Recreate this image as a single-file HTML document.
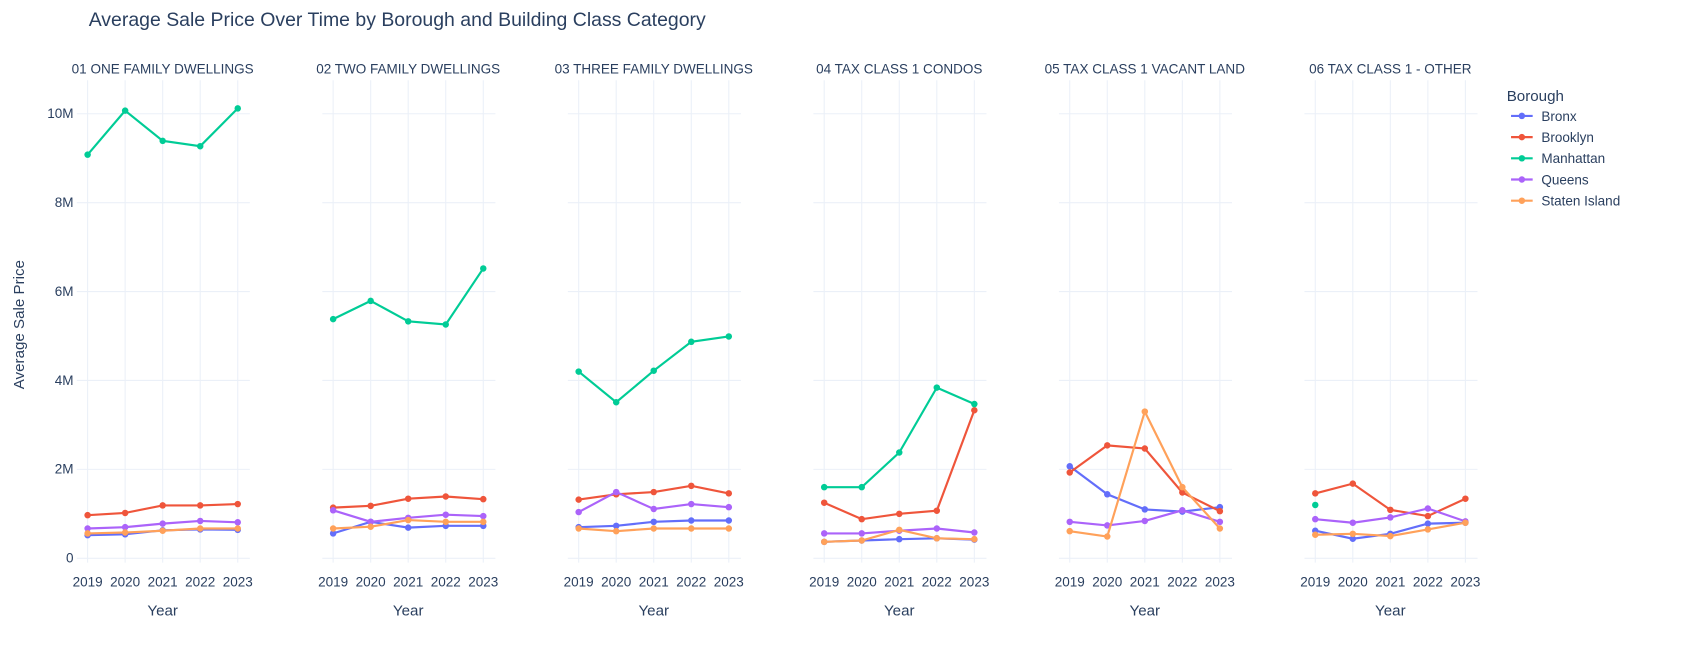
<!DOCTYPE html>
<html><head><meta charset="utf-8"><style>
html,body{margin:0;padding:0;background:#fff;}
svg{display:block;font-family:"Liberation Sans",sans-serif;}
</style></head><body>
<svg id="chart" width="1696" height="645" viewBox="0 0 1568 596" xmlns="http://www.w3.org/2000/svg">
<text x="82" y="24" font-size="18" fill="#2a3f5f">Average Sale Price Over Time by Borough and Building Class Category</text>
<text transform="translate(22,300) rotate(-90)" text-anchor="middle" font-size="14" fill="#2a3f5f">Average Sale Price</text>
<g id="panels"></g>
<g id="legend"></g>
</svg>
<script>
const categories = ["01 ONE FAMILY DWELLINGS","02 TWO FAMILY DWELLINGS","03 THREE FAMILY DWELLINGS","04 TAX CLASS 1 CONDOS","05 TAX CLASS 1 VACANT LAND","06 TAX CLASS 1 - OTHER"];
const years = [2019,2020,2021,2022,2023];
const boroughs = ["Bronx","Brooklyn","Manhattan","Queens","Staten Island"];
const yTicks = [0,2,4,6,8,10];
const yTickLabels = ["0","2M","4M","6M","8M","10M"];
// values in millions, per category per borough
const bronx = [[0.52,0.54,0.63,0.65,0.64],[0.56,0.82,0.69,0.73,0.73],[0.70,0.73,0.82,0.85,0.85],[0.37,0.40,0.43,0.45,0.42],[2.07,1.44,1.10,1.05,1.15],[0.62,0.44,0.55,0.78,0.80]];
const brooklyn = [[0.97,1.02,1.19,1.19,1.22],[1.14,1.18,1.34,1.39,1.33],[1.32,1.44,1.49,1.63,1.46],[1.25,0.88,1.00,1.07,3.33],[1.93,2.54,2.47,1.48,1.06],[1.46,1.68,1.09,0.95,1.34]];
const manhattan = [[9.08,10.07,9.39,9.27,10.12],[5.38,5.79,5.33,5.26,6.52],[4.20,3.51,4.22,4.87,4.99],[1.60,1.60,2.38,3.84,3.47],[null,null,null,null,null],[1.20,null,null,null,null]];
const queens = [[0.67,0.70,0.78,0.84,0.81],[1.08,0.82,0.91,0.98,0.95],[1.04,1.49,1.11,1.22,1.15],[0.56,0.56,0.62,0.67,0.58],[0.82,0.74,0.84,1.08,0.82],[0.88,0.80,0.92,1.12,0.83]];
const staten = [[0.56,0.58,0.62,0.67,0.67],[0.67,0.71,0.86,0.82,0.82],[0.67,0.61,0.67,0.67,0.67],[0.37,0.40,0.64,0.45,0.43],[0.61,0.49,3.30,1.60,0.67],[0.53,0.55,0.50,0.65,0.80]];
const seriesData = [bronx,brooklyn,manhattan,queens,staten];
const colors = ["#636efa","#EF553B","#00cc96","#ab63fa","#FFA15A"];

const NS="http://www.w3.org/2000/svg";
function mk(tag,attrs,parent){const e=document.createElementNS(NS,tag);for(const k in attrs)e.setAttribute(k,attrs[k]);parent.appendChild(e);return e;}
const gridLeft0=71, gridW=160, panelGap=227, step=34.7, firstYearX=81;
function xScale(p,yr){return firstYearX+p*panelGap+(yr-2019)*step;}
function yScale(v){return 516-v*41.1;}
const panels=document.getElementById('panels');
categories.forEach((cat,p)=>{
  const g=mk('g',{},panels);
  
  
  const x0=gridLeft0+p*panelGap;
  yTicks.forEach((t,i)=>{
    const l=mk('line',{x1:x0,x2:x0+gridW,y1:yScale(t),y2:yScale(t),stroke:'#ebf0f8','stroke-width':1},g);
    
    
    if(p===0){const tx=mk('text',{x:x0-3,y:yScale(t)+4,'text-anchor':'end','font-size':12.5,fill:'#2a3f5f'},g);tx.textContent=yTickLabels[i];
      
      }
  });
  years.forEach(yr=>{
    const l=mk('line',{x1:xScale(p,yr),x2:xScale(p,yr),y1:74,y2:520,stroke:'#ebf0f8','stroke-width':1},g);
    
    
    const tx=mk('text',{x:xScale(p,yr),y:542,'text-anchor':'middle','font-size':12.5,fill:'#2a3f5f'},g);tx.textContent=yr;
    
    
  });
  const cx=xScale(p,2021);
  const t=mk('text',{x:cx,y:68,'text-anchor':'middle','font-size':12.5,fill:'#2a3f5f'},g);t.textContent=cat;
  
  
  const xt=mk('text',{x:cx,y:569,'text-anchor':'middle','font-size':14,fill:'#2a3f5f'},g);xt.textContent='Year';
  
  
  seriesData.forEach((s,b)=>{
    const vals=s[p];
    let d='',pen=false;
    vals.forEach((v,i)=>{if(v===null){pen=false;return;}d+=(pen?'L':'M')+xScale(p,years[i])+' '+yScale(v);pen=true;});
    const path=mk('path',{d:d,fill:'none',stroke:colors[b],'stroke-width':2},g);
    
    
    vals.forEach((v,i)=>{if(v===null)return;
      const c=mk('circle',{cx:xScale(p,years[i]),cy:yScale(v),r:3,fill:colors[b]},g);
      
      
    });
  });
});
const lg=document.getElementById('legend');
const lt=mk('text',{x:1393,y:93,'font-size':14,fill:'#2a3f5f'},lg);lt.textContent='Borough';


boroughs.forEach((b,i)=>{
  const y=107+i*19.6;
  const g=mk('g',{},lg);
  
  
  mk('line',{x1:1397,x2:1417,y1:y,y2:y,stroke:colors[i],'stroke-width':2},g);
  mk('circle',{cx:1407,cy:y,r:3,fill:colors[i]},g);
  const t=mk('text',{x:1425,y:y+4.5,'font-size':12.5,fill:'#2a3f5f'},g);t.textContent=b;
});
</script>
</body></html>
